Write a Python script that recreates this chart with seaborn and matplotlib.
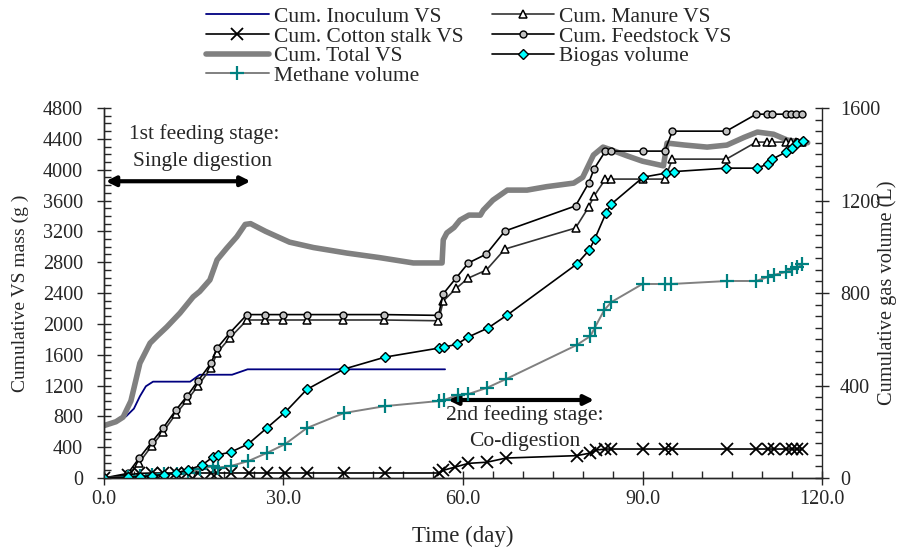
import numpy as np
import pandas as pd
import matplotlib
matplotlib.use('Agg')
import matplotlib.pyplot as plt
import seaborn as sns
from matplotlib.ticker import MultipleLocator, FormatStrFormatter

# datos (dia, valor)
inoc_day = [0, 2, 3.7, 5, 6, 7, 8.2, 14.4, 16, 21.4, 24, 57]
inoc_vs = [680, 730, 800, 900, 1060, 1190, 1250, 1250, 1340, 1340, 1410, 1410]

total_day = [0, 2, 3.2, 4.5, 6, 7.7, 9, 10.5, 12.7, 14.9, 16, 17.7, 18.9, 20.5, 22.2, 23.6,
             24.5, 27, 31, 35, 40.6, 46, 51.7, 56.5, 56.7, 57.3, 58.5, 59.5, 61, 62.9, 63.4,
             65, 67.4, 70.7, 74, 78.5, 80, 81.8, 83.4, 85, 87.4, 90, 93.5, 94.1, 97, 100.8,
             104.1, 107, 109.2, 111.9, 114.2, 117.6]
total_vs = [680, 730, 790, 1000, 1490, 1750, 1850, 1960, 2140, 2350, 2420, 2570, 2830, 2980,
            3130, 3290, 3300, 3200, 3060, 2990, 2918, 2860, 2790, 2790, 3090, 3180, 3250, 3346,
            3411, 3410, 3476, 3605, 3735, 3735, 3780, 3826, 3900, 4190, 4293, 4250, 4180, 4110,
            4050, 4345, 4320, 4293, 4319, 4420, 4488, 4460, 4384, 4350]

feed_day = [0, 4, 5.9, 8, 9.9, 12, 13.9, 15.7, 17.9, 18.9, 21, 23.9, 26.9, 29.9, 33.9, 40,
            46.8, 55.9, 56.7, 58.9, 60.9, 63.9, 67, 78.8, 81, 81.9, 83.8, 84.8, 90.1, 93.7,
            95, 104, 109, 110.8, 111.7, 113.9, 114.8, 115.7, 116.7]
feed_vs = [0, 60, 260, 467, 650, 880, 1064, 1258, 1490, 1686, 1880, 2120, 2120, 2120, 2120,
           2120, 2120, 2110, 2390, 2600, 2790, 2905, 3204, 3530, 3826, 4010, 4241, 4241, 4241,
           4241, 4500, 4500, 4720, 4720, 4720, 4720, 4720, 4720, 4720]
manure_vs = [0, 20, 200, 420, 600, 830, 1010, 1195, 1430, 1625, 1815, 2050, 2050, 2050, 2050,
             2050, 2050, 2040, 2296, 2464, 2594, 2698, 2970, 3243, 3515, 3657, 3878, 3878, 3878,
             3878, 4137, 4137, 4358, 4358, 4358, 4358, 4358, 4358, 4358]

cot_day = [0, 4, 5.9, 8, 9.9, 12, 13.9, 15.7, 17.9, 18.9, 21.2, 24.2, 27.3, 30.3, 34, 40.1, 47,
           56, 56.7, 58.6, 60.9, 64, 67.2, 79, 81.3, 82.3, 83.8, 84.8, 90, 93.7, 95, 104.2, 109,
           110.9, 111.9, 114, 115, 115.8, 116.7]
cot_vs = [0, 40, 60, 65, 65, 65, 65, 65, 65, 65, 65, 65, 65, 65, 65, 65, 65, 65, 100, 140, 190,
          205, 259, 290, 324, 363, 376, 376, 376, 376, 376, 376, 376, 376, 376, 376, 376, 376, 376]

bio_day = [0, 4, 6, 8, 10, 12, 14, 16.4, 18.2, 19, 21.2, 24.1, 27.2, 30.3, 33.9, 40.1, 47, 56,
           56.9, 59, 60.9, 64.2, 67.4, 79, 81.1, 82, 83.9, 84.8, 90.1, 94, 95.2, 104, 109.2,
           110.9, 111.7, 114, 114.9, 115.9, 116.9]
bio_L = [0, 3, 6, 10, 15, 22, 35, 56, 91, 100, 112, 147, 216, 285, 383, 471, 523, 562, 566, 579,
         610, 649, 705, 925, 986, 1033, 1146, 1185, 1301, 1319, 1325, 1340, 1340, 1358, 1379,
         1410, 1427, 1449, 1457]

met_day = [0, 4, 6, 8, 10, 12.2, 14, 16, 18.2, 19, 21.2, 24.1, 27.2, 30.3, 33.9, 40.1, 47, 56,
           56.9, 59.2, 60.9, 64, 67.2, 79, 81.3, 82, 83.6, 84.8, 90, 93.8, 94.8, 104.2, 109,
           110.9, 111.9, 114, 115, 115.9, 116.7]
met_L = [0, 4, 8, 12, 17, 17, 22, 39, 50, 45, 52, 73, 108, 147, 216, 281, 311, 333, 338, 359,
         363, 390, 428, 575, 614, 649, 726, 761, 839, 839, 839, 852, 852, 869, 878, 891, 904,
         912, 925]

sns.set_style('ticks')
plt.rcParams['font.family'] = ['Liberation Serif', 'DejaVu Serif']
plt.rcParams['font.size'] = 14

fig, ax = plt.subplots(figsize=(8.98, 5.5), dpi=100)
fig.subplots_adjust(left=0.1158, right=0.9154, bottom=0.1309, top=0.8036)
ax2 = ax.twinx()

lineas = {}
sns.lineplot(x=inoc_day, y=inoc_vs, ax=ax, color='#000080', lw=1.3, estimator=None, sort=False)
lineas['Cum. Inoculum VS'] = ax.lines[-1]
sns.lineplot(x=total_day, y=total_vs, ax=ax, color='#808080', lw=4, estimator=None, sort=False)
lineas['Cum. Total VS'] = ax.lines[-1]
sns.lineplot(x=feed_day, y=manure_vs, ax=ax, color='#333333', lw=1.2, marker='^', ms=5.5,
             mfc='white', mec='black', mew=1.1, estimator=None, sort=False)
lineas['Cum. Manure VS'] = ax.lines[-1]
sns.lineplot(x=feed_day, y=feed_vs, ax=ax, color='black', lw=1.2, marker='o', ms=5,
             mfc='#c0c0c0', mec='black', mew=1.0, estimator=None, sort=False)
lineas['Cum. Feedstock VS'] = ax.lines[-1]
sns.lineplot(x=cot_day, y=cot_vs, ax=ax, color='black', lw=1.2, marker='x', ms=8,
             mec='black', mew=1.3, estimator=None, sort=False)
lineas['Cum. Cotton stalk VS'] = ax.lines[-1]

sns.lineplot(x=met_day, y=met_L, ax=ax2, color='#808080', lw=1.4, marker='+', ms=10,
             mec='#008080', mew=1.6, estimator=None, sort=False)
lineas['Methane volume'] = ax2.lines[-1]
sns.lineplot(x=bio_day, y=bio_L, ax=ax2, color='black', lw=1.2, marker='D', ms=4.8,
             mfc='#00ffff', mec='black', mew=1.0, estimator=None, sort=False)
lineas['Biogas volume'] = ax2.lines[-1]

# ejes
ax.set_xlim(0, 120)
ax.set_ylim(0, 4800)
ax2.set_ylim(0, 1600)
ax.xaxis.set_major_locator(MultipleLocator(30))
ax.xaxis.set_minor_locator(MultipleLocator(5))
ax.xaxis.set_major_formatter(FormatStrFormatter('%.1f'))
ax.yaxis.set_major_locator(MultipleLocator(400))
ax.yaxis.set_minor_locator(MultipleLocator(100))
ax2.yaxis.set_major_locator(MultipleLocator(400))
ax2.yaxis.set_minor_locator(MultipleLocator(50))
for a in (ax, ax2):
    a.spines['top'].set_visible(False)
    a.tick_params(which='major', direction='inout', length=10, width=1, labelsize=14.5)
    a.tick_params(which='minor', direction='in', length=5, width=1)
    for s in a.spines.values():
        s.set_linewidth(1)
ax.spines['right'].set_visible(False)
ax.tick_params(axis='y', which='major', pad=10)
ax2.tick_params(axis='y', which='major', pad=8)

ax.set_xlabel('Time (day)', fontsize=16.5)
ax.set_ylabel('Cumulative VS mass (g )', fontsize=14)
ax2.set_ylabel('Cumulative gas volume (L)', fontsize=14.7)
ax.xaxis.set_label_coords(0.5, -0.13)
ax.yaxis.set_label_coords(-0.104, 0.5)
ax2.yaxis.set_label_coords(1.077, 0.5)

# anotaciones de etapas
flecha = dict(arrowstyle='<|-|>', lw=3, color='black', mutation_scale=14, shrinkA=0, shrinkB=0)
ax.annotate('', xy=(0.3, 3850), xytext=(24.5, 3850), arrowprops=flecha)
ax.text(16.7, 4462, '1st feeding stage:', ha='center', va='center', fontsize=15.5)
ax.text(16.5, 4112, 'Single digestion', ha='center', va='center', fontsize=15.5)
ax.annotate('', xy=(57.5, 1012), xytext=(81.9, 1012), arrowprops=flecha)
ax.text(70.4, 817, '2nd feeding stage:', ha='center', va='center', fontsize=15.5)
ax.text(70.4, 480, 'Co-digestion', ha='center', va='center', fontsize=15.5)

orden = ['Cum. Inoculum VS', 'Cum. Cotton stalk VS', 'Cum. Total VS', 'Methane volume',
         'Cum. Manure VS', 'Cum. Feedstock VS', 'Biogas volume']
fig.legend([lineas[k] for k in orden], orden, ncol=2, loc='upper left',
           bbox_to_anchor=(0.22, 1.003), frameon=False, fontsize=15.5, handlelength=2.9,
           handletextpad=0.25, columnspacing=1.3, labelspacing=-0.02, borderaxespad=0)

fig.savefig('out.png', dpi=100)
